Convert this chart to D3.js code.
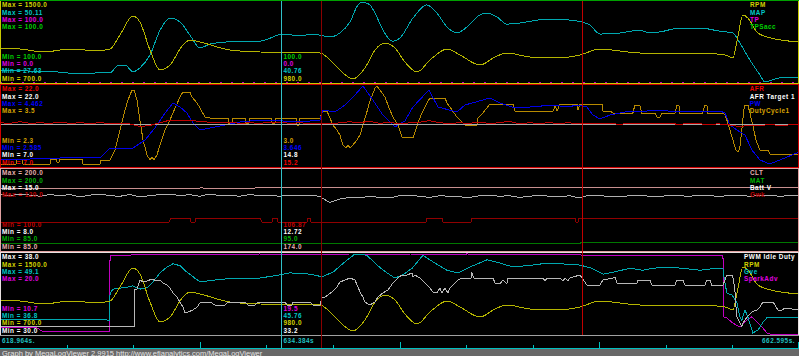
<!DOCTYPE html>
<html lang="en">
<head>
<meta charset="utf-8">
<title>MegaLogViewer graph</title>
<script src="https://d3js.org/d3.v7.min.js"></script>
<style>
body { margin:0; background:#000; }
svg { display:block; }
text { font-family:"Liberation Sans", Arial, sans-serif; font-size:6.4px; font-weight:bold; letter-spacing:0.5px; }
text.foot { font-size:7.5px; font-weight:normal; letter-spacing:0; }
.trace { fill:none; stroke-width:1; shape-rendering:crispEdges; }
</style>
</head>
<body>
<div id="container"></div>
<script>
var w = 799, h = 356;

// time window shown (s)
var t0 = 618.964, t1 = 662.595;
var cursorTime = 634.384;
var markerTimes = [636.49, 650.75];
var footer = "Graph by MegaLogViewer 2.9915 http://www.efianalytics.com/MegaLogViewer";

// series: [seconds after t0, value]
var rpm = [[0,1040],[1.09,1030],[2.46,1000],[3.28,1020],[4.10,1030],[5.19,1010],[6.01,1030],[6.55,1170],[7.26,1360],[7.64,1300],[8.19,1020],[8.74,820],[9.28,870],[9.99,1070],[10.37,1120],[10.92,1100],[12.56,1020],[14.20,1000],[17.47,990],[18.29,870],[19.27,730],[19.93,840],[20.48,1020],[21.02,1090],[21.57,1040],[22.11,900],[22.77,800],[23.48,920],[24.41,1030],[25.12,970],[26.21,870],[27.03,950],[27.68,990],[28.94,950],[30.31,940],[31.67,970],[32.76,1030],[33.85,1010],[34.94,990],[38.22,990],[39.59,970],[40.02,940],[40.24,1100],[40.57,1370],[40.84,1340],[41.33,1200],[41.88,1150],[43.63,1100]];
var map = [[0,31.0],[1.64,30.7],[3.28,30.4],[4.37,29.9],[5.46,30.2],[6.01,30.2],[6.39,32.1],[6.83,32.4],[7.26,30.5],[7.64,31.6],[8.19,35.2],[8.74,42.2],[9.28,45.6],[9.83,44.5],[10.37,40.8],[10.92,37.2],[11.47,38.3],[12.83,39.0],[14.20,39.1],[15.45,41.1],[16.38,40.6],[17.04,41.1],[18.02,40.3],[18.56,41.4],[19.11,44.5],[19.55,49.3],[19.77,50.1],[19.99,49.8],[20.20,49.3],[20.58,45.9],[20.91,42.2],[21.46,39.1],[21.84,40.0],[22.55,45.6],[23.31,49.3],[23.86,47.0],[24.41,43.1],[24.95,41.4],[25.50,43.1],[26.21,46.5],[26.59,47.0],[27.14,45.9],[27.68,43.9],[28.39,44.2],[29.49,45.1],[30.20,45.3],[30.96,45.1],[31.78,44.5],[32.22,43.6],[32.76,41.1],[33.85,41.4],[34.94,42.2],[35.49,41.4],[36.04,41.7],[37.13,42.8],[38.22,42.8],[39.31,41.9],[40.02,41.4],[40.40,38.6],[40.95,33.8],[41.50,29.6],[41.77,27.63],[42.32,28.5],[42.86,29.0],[43.63,29.0]];
var tp = [[0,0],[43.63,0]];
var tpsAcc = [[0,100],[43.63,100]];

// AFR and Batt V are sampled every gridStep seconds
var gridStep = 43.631 / 80;
var afrVals = [15.1,15.0,15.3,15.0,15.1,15.0,15.2,15.0,15.1,15.0,15.1,15.0,15.0,14.9,14.4,14.6,15.1,15.6,15.5,15.5,15.4,15.2,15.1,15.2,15.0,15.1,15.0,15.2,15.2,15.0,15.1,15.0,15.0,14.9,15.1,15.3,15.1,15.4,15.0,15.2,14.9,15.1,15.2,15.5,15.1,15.0,15.1,15.0,15.2,15.0,15.1,15.4,14.9,15.1,15.0,15.1,15.0,15.1,14.9,15.0,14.9,15.0,14.8,15.0,14.9,15.0,14.9,15.0,14.8,15.0,14.9,14.8,14.9,14.7,14.4,14.6,14.5,14.8,14.6,14.7,14.8];
var battVals = [12.85,12.75,12.9,12.8,12.7,12.85,12.75,12.85,12.65,12.8,12.9,12.75,12.7,12.85,12.65,12.75,12.85,12.9,12.75,12.85,12.7,12.9,12.75,12.8,12.7,12.85,12.75,12.8,12.7,12.8,12.75,12.8,12.7,12.15,12.45,12.6,12.55,12.7,12.6,12.55,12.75,12.8,12.7,12.6,12.75,12.7,12.65,12.6,12.75,12.8,12.7,12.75,12.6,12.7,12.8,12.7,12.65,12.75,12.55,12.8,12.75,12.7,12.65,12.75,12.8,12.7,12.65,12.8,12.75,12.7,12.8,12.75,12.7,12.75,12.8,12.7,12.75,12.8,12.7,12.75,12.8];
var afrTarget = [[0,14.8],[43.63,14.8]];
var pw = [[0,2.726],[1.64,2.749],[3.28,2.773],[5.46,2.773],[6.01,3.007],[7.26,3.007],[7.92,3.195],[8.46,3.48],[9.01,3.828],[9.45,4.063],[9.83,3.969],[10.21,3.828],[10.54,3.594],[10.92,3.43],[11.74,3.50],[13.10,3.617],[14.20,3.664],[15.45,3.641],[16.38,3.617],[17.47,3.664],[17.64,3.899],[18.29,3.852],[18.84,4.016],[19.38,4.251],[19.82,4.462],[20.36,4.133],[20.91,3.781],[21.57,3.50],[22.11,3.641],[22.55,3.969],[23.42,4.368],[23.92,3.969],[24.95,3.852],[25.39,4.016],[26.75,4.18],[27.30,4.063],[28.12,3.946],[28.94,3.969],[30.20,4.016],[30.96,3.969],[31.56,4.016],[32.05,3.969],[32.38,3.781],[32.76,3.688],[33.31,3.781],[34.13,3.852],[34.94,3.852],[35.76,3.899],[37.13,3.852],[38.22,3.852],[39.31,3.875],[39.59,3.828],[39.86,3.547],[40.24,3.43],[40.68,3.312],[41.06,2.96],[41.50,2.726],[42.04,2.632],[42.86,2.773],[43.63,2.913]];
var duty = [[0,2.33],[0.87,2.33],[0.93,2.40],[1.20,2.40],[1.26,2.33],[2.73,2.33],[2.78,2.405],[3.06,2.405],[3.11,2.36],[3.22,2.36],[3.28,2.405],[4.48,2.405],[4.53,2.33],[5.46,2.33],[5.52,2.39],[6.01,2.39],[6.28,2.54],[6.55,2.84],[6.83,3.14],[6.99,3.29],[7.21,3.44],[7.32,3.44],[7.48,3.29],[7.64,2.99],[7.81,2.69],[8.03,2.465],[8.19,2.39],[8.30,2.435],[8.41,2.39],[8.57,2.465],[8.74,2.615],[9.01,2.84],[9.28,2.99],[9.56,3.17],[9.83,3.335],[9.99,3.41],[10.37,3.41],[10.48,3.335],[10.76,3.245],[10.92,3.17],[11.19,3.035],[11.47,3.02],[12.45,3.02],[12.50,2.945],[12.67,2.945],[12.72,3.02],[13.38,3.02],[13.43,2.945],[13.60,2.945],[13.65,3.02],[14.80,3.02],[14.85,2.945],[15.02,2.945],[15.07,3.02],[16.16,3.02],[16.22,2.915],[16.33,2.915],[16.38,3.02],[17.47,3.02],[17.64,3.125],[17.85,3.125],[18.02,3.02],[18.18,2.915],[18.40,2.84],[18.56,2.765],[18.73,2.615],[18.89,2.57],[19.00,2.615],[19.11,2.57],[19.27,2.615],[19.49,2.69],[19.66,2.765],[19.82,2.915],[19.99,3.065],[20.15,3.23],[20.31,3.35],[20.48,3.47],[20.58,3.5],[20.75,3.44],[21.02,3.335],[21.29,3.14],[21.46,3.035],[21.73,2.915],[21.95,2.735],[22.55,2.72],[22.66,2.81],[22.82,2.945],[23.04,3.095],[23.31,3.245],[23.48,3.32],[24.30,3.32],[24.41,3.245],[24.68,3.14],[24.95,3.035],[25.23,2.96],[25.39,2.915],[26.05,2.915],[26.10,3.02],[26.37,3.095],[26.75,3.23],[28.01,3.23],[28.12,3.125],[30.20,3.125],[30.31,3.20],[30.42,3.125],[30.58,3.23],[31.51,3.23],[31.56,3.14],[31.67,3.23],[32.87,3.23],[32.93,3.125],[33.31,3.125],[33.47,3.095],[34.56,3.095],[34.67,3.215],[34.94,3.215],[35.05,3.095],[35.76,3.095],[35.87,3.035],[36.04,3.035],[36.15,3.095],[36.86,3.095],[36.96,3.215],[37.07,3.215],[37.13,3.095],[38.38,3.095],[38.49,3.215],[38.60,3.215],[38.65,3.095],[39.48,3.095],[39.59,3.065],[39.69,2.99],[39.86,2.84],[40.02,2.69],[40.19,2.54],[40.30,2.51],[40.40,2.57],[40.51,2.84],[40.62,3.14],[40.68,3.215],[40.84,3.215],[40.95,3.095],[41.11,2.915],[41.28,2.69],[41.50,2.54],[41.93,2.54],[42.04,2.48],[43.63,2.48]];
var clt = [[0,174],[10.9,174],[11.0,174.8],[11.1,174],[21.8,174.4],[32.7,175],[43.63,175.5]];
var mat = [[0,95],[31.7,95],[31.8,96],[43.63,96]];
var gwk = [[0,107],[9.23,107],[9.34,108],[10.37,108],[10.43,107],[10.65,107],[10.70,108],[14.20,108],[14.31,107],[14.85,107],[14.91,108],[15.13,108],[15.18,107],[16.76,107],[16.82,108],[16.93,108],[16.98,107],[23.26,107],[23.31,108],[24.13,108],[24.19,107],[25.72,107],[25.77,108],[31.40,108],[31.45,107],[31.56,107],[31.62,108],[43.63,108]];
var pwmIdle = [[0,30.8],[7.32,30.8],[7.37,34.5],[7.48,34.5],[7.64,35.4],[7.81,35.2],[8.03,35.3],[8.30,35.5],[8.57,35.3],[8.74,35.4],[8.90,35.1],[9.12,34.9],[9.28,34.6],[9.45,34.1],[9.66,33.7],[9.83,33.2],[9.99,32.7],[10.10,32.1],[10.26,32.2],[10.54,32.4],[10.76,32.7],[10.92,33.1],[11.47,33.2],[11.74,32.9],[12.29,32.9],[12.45,33.2],[13.38,33.2],[13.54,32.9],[13.92,32.9],[14.09,33.2],[15.56,33.2],[15.67,32.9],[15.94,32.9],[16.00,33.2],[16.93,33.2],[17.09,32.9],[17.47,32.9],[17.58,33.6],[17.75,33.7],[18.13,34.2],[18.40,34.7],[18.56,35.2],[18.84,35.4],[19.11,35.6],[19.38,35.4],[19.55,34.7],[19.66,34.2],[19.82,33.7],[19.93,33.2],[20.20,32.9],[20.48,33.2],[20.64,33.7],[20.91,34.1],[21.18,34.4],[21.46,35.1],[21.73,35.6],[21.95,35.9],[22.22,35.9],[22.50,36.1],[22.55,35.7],[22.66,35.9],[22.93,35.6],[23.21,35.1],[23.48,34.6],[23.64,34.2],[23.86,34.1],[24.02,34.6],[24.13,34.1],[24.30,34.6],[24.46,34.1],[24.57,34.6],[24.84,35.1],[25.01,35.4],[25.23,35.6],[25.72,35.6],[25.77,36.1],[25.88,35.6],[26.92,35.6],[27.03,35.1],[27.30,35.0],[27.46,35.4],[27.68,35.0],[27.74,35.6],[29.65,35.6],[29.76,35.3],[29.87,35.6],[30.58,35.6],[30.74,35.3],[30.85,35.6],[31.01,35.3],[31.12,35.6],[31.67,35.9],[31.78,35.6],[32.05,34.9],[32.76,34.9],[32.93,35.4],[33.47,35.6],[33.58,35.7],[33.69,35.1],[34.78,35.1],[34.83,35.4],[35.49,35.4],[35.60,34.9],[36.86,34.9],[36.96,35.4],[37.29,35.4],[37.40,34.9],[38.49,34.9],[38.60,35.4],[38.77,35.4],[38.86,34.9],[39.48,34.9],[39.59,35.4],[39.69,35.9],[39.97,35.9],[40.02,35.7],[40.13,34.4],[40.19,32.7],[40.24,31.7],[40.40,31.1],[40.51,30.7],[40.57,31.1],[40.79,31.7],[41.06,32.2],[41.33,32.4],[41.50,32.7],[41.66,33.2],[42.21,33.2],[42.32,32.9],[42.48,32.4],[42.70,32.4],[42.86,32.6],[43.63,32.4]];
var gve = [[0,38.95],[2.73,39.0],[5.98,38.95],[6.01,43.1],[6.17,43.7],[6.93,44.0],[7.26,44.2],[7.64,43.7],[8.03,43.9],[8.35,44.8],[8.74,46.2],[9.12,47.1],[9.45,47.6],[9.83,47.3],[10.21,46.3],[10.54,45.6],[10.92,44.8],[12.01,45.2],[13.10,45.4],[14.20,45.4],[15.29,45.9],[15.84,46.2],[16.93,46.0],[17.58,45.6],[18.18,46.3],[18.84,47.9],[19.38,49.1],[19.66,49.1],[20.04,48.9],[20.58,47.4],[21.13,46.2],[21.57,45.4],[22.00,45.9],[22.50,46.9],[23.10,48.9],[23.64,47.9],[24.41,46.6],[25.01,46.2],[25.66,47.1],[26.59,48.2],[27.30,47.7],[28.01,47.1],[29.10,47.4],[29.87,47.7],[30.58,47.6],[31.67,47.4],[32.32,46.9],[32.93,46.0],[33.47,46.3],[34.40,46.9],[35.11,46.6],[35.65,46.9],[36.42,47.1],[37.29,46.9],[38.22,46.6],[38.77,46.8],[39.48,46.9],[39.53,45.6],[39.69,43.1],[39.97,42.8],[40.24,41.6],[40.40,39.4],[40.51,38.9],[40.68,40.5],[40.84,39.4],[41.06,37.4],[41.11,36.95],[41.39,37.4],[41.66,38.6],[41.88,39.3],[43.63,39.3]];
var sparkAdv = [[0,11.4],[2.02,11.4],[2.29,11.05],[3.28,10.95],[4.37,11.05],[5.46,10.95],[5.98,11.0],[6.01,19.8],[7.37,19.9],[9.28,19.9],[10.92,19.9],[14.20,20.0],[15.29,19.9],[16.38,19.9],[19.11,20.0],[19.93,20.0],[20.48,19.9],[21.84,20.0],[22.39,20.0],[24.02,19.9],[25.50,20.0],[27.30,19.9],[31.67,19.9],[32.05,19.77],[39.48,19.77],[39.53,12.7],[39.69,12.56],[40.02,11.98],[40.40,11.51],[40.79,12.33],[41.06,12.7],[41.33,12.1],[41.66,11.4],[41.88,10.82],[42.04,10.7],[43.63,10.7]];

// values shown at the cursor, per panel in min-label order
var cursorVals = [[100.0, 0.0, 40.76, 980.0], [3.0, 3.646, 14.8, 15.2], [106.87, 12.72, 95.0, 174.0], [19.5, 45.76, 980.0, 33.2]];

var afr = afrVals.map(function(v, i) { return [i * gridStep, v]; });
var batt = battVals.map(function(v, i) { return [i * gridStep, v]; });

var panels = [
  {top:0, bottom:83, border:"#c8c800", series:[
    {name:"RPM", data:rpm, min:700, max:1500, line:"#b4b400", text:"#d4d400", curve:d3.curveMonotoneX},
    {name:"MAP", data:map, min:27.63, max:50.11, line:"#00a8b0", text:"#00c8c8", curve:d3.curveMonotoneX},
    {name:"TP", data:tp, min:0, max:100, line:"#c000c0", text:"#e000e0", dash:"2,9"},
    {name:"TPSacc", data:tpsAcc, min:100, max:100, line:"#00c000", text:"#00d000", hidden:true}]},
  {top:84, bottom:167, border:"#d00000", series:[
    {name:"AFR", data:afr, min:7, max:22, line:"#c00000", text:"#f00000"},
    {name:"AFR Target 1", data:afrTarget, min:7, max:22, line:"#a8a8a8", text:"#ffffff"},
    {name:"PW", data:pw, min:2.585, max:4.462, line:"#0000e8", text:"#0000ff"},
    {name:"DutyCycle1", data:duty, min:2.3, max:3.5, line:"#b88a00", text:"#d8a400"}]},
  {top:168, bottom:251, border:"#e0a0a0", series:[
    {name:"CLT", data:clt, min:85, max:200, line:"#c89090", text:"#e8b0b0"},
    {name:"MAT", data:mat, min:85, max:200, line:"#007800", text:"#00b000"},
    {name:"Batt V", data:batt, min:8, max:15, line:"#b0b0b0", text:"#ffffff"},
    {name:"Gwk", data:gwk, min:100, max:120, line:"#900000", text:"#c00000"}]},
  {top:252, bottom:335, border:"#e8e0e0", series:[
    {name:"PWM Idle Duty", data:pwmIdle, min:30, max:38, line:"#b8b8b8", text:"#ffffff"},
    {name:"RPM", data:rpm, min:700, max:1500, line:"#b4b400", text:"#d4d400", curve:d3.curveMonotoneX},
    {name:"Gve", data:gve, min:36.8, max:49.1, line:"#00a8b0", text:"#00c8c8"},
    {name:"SparkAdv", data:sparkAdv, min:10.7, max:20, line:"#c000c0", text:"#e000e0"}]}
];

var rowGap = 7.2;

function fmt(v) { return Number.isInteger(v) ? v.toFixed(1) : String(v); }

var svg = d3.select("#container").append("svg")
  .attr("width", w).attr("height", h)
  .style("background-color", "#000");

var x = d3.scaleLinear().domain([t0, t1]).range([0, w]);

panels.forEach(function(p, pi) {
  var yTop = p.top + 2, yBot = p.bottom - 1;
  var clipId = "clip" + pi;
  svg.append("clipPath").attr("id", clipId).append("rect")
    .attr("x", 1).attr("y", p.top + 1).attr("width", w - 2).attr("height", p.bottom - p.top - 1);
  var g = svg.append("g").attr("clip-path", "url(#" + clipId + ")");

  // draw last series first so the first listed ends on top
  p.series.slice().reverse().forEach(function(s) {
    if (s.hidden) return;
    var y = d3.scaleLinear().domain([s.min, s.max]).range([yBot, yTop]);
    var line = d3.line()
      .x(function(d) { return x(t0 + d[0]); })
      .y(function(d) { return y(d[1]); })
      .curve(s.curve || d3.curveLinear);
    g.append("path").attr("class", "trace")
      .attr("d", line(s.data))
      .attr("stroke", s.line)
      .attr("stroke-dasharray", s.dash || null);
  });

  svg.append("rect")
    .attr("x", 0.5).attr("y", p.top + 0.5)
    .attr("width", w - 1).attr("height", p.bottom - p.top)
    .attr("fill", "none").attr("stroke", p.border).attr("shape-rendering", "crispEdges");
});

// green frame on top
svg.append("line").attr("x1", 0).attr("x2", w).attr("y1", 0.5).attr("y2", 0.5)
  .attr("stroke", "#00a000").attr("shape-rendering", "crispEdges");
// gray base under last panel
svg.append("line").attr("x1", 0).attr("x2", w).attr("y1", 335.5).attr("y2", 335.5)
  .attr("stroke", "#a0a0a0").attr("shape-rendering", "crispEdges");

// cursor and marker lines
markerTimes.forEach(function(t, i) {
  svg.append("line")
    .attr("x1", Math.round(x(t)) + 0.5).attr("x2", Math.round(x(t)) + 0.5)
    .attr("y1", 1).attr("y2", i === 0 ? 348 : 335)
    .attr("stroke", i === 0 ? "#8a0000" : "#c00000");
});
var cx = Math.round(x(cursorTime)) - 0.5;
svg.append("line").attr("x1", cx).attr("x2", cx).attr("y1", 1).attr("y2", 348)
  .attr("stroke", "#30c0c8");

// labels
panels.forEach(function(p, pi) {
  var n = p.series.length;
  p.series.forEach(function(s, i) {
    svg.append("text").attr("x", 2).attr("y", p.top + 7.3 + rowGap * i)
      .attr("fill", s.text).text("Max = " + fmt(s.max));
  });
  var rev = p.series.slice().reverse();
  rev.forEach(function(s, i) {
    var by = p.bottom - 2.5 - rowGap * (n - 1 - i);
    svg.append("text").attr("x", 2).attr("y", by)
      .attr("fill", s.text).text("Min = " + fmt(s.min));
    svg.append("text").attr("x", cx + 2).attr("y", by)
      .attr("fill", s.text).text(fmt(cursorVals[pi][i]));
  });
  var leg = svg.append("g");
  p.series.forEach(function(s, i) {
    leg.append("text").attr("x", 0).attr("y", p.top + 7.3 + rowGap * i)
      .attr("fill", s.text).text(s.name);
  });
  var lw = leg.node().getBBox().width;
  leg.attr("transform", "translate(" + Math.min(750, 795 - lw) + ",0)");
});

// time axis
svg.append("line").attr("x1", 0).attr("x2", w).attr("y1", 348.5).attr("y2", 348.5)
  .attr("stroke", "#00c0c0").attr("shape-rendering", "crispEdges");
var ticks = d3.range(1, 13).map(function(i) { return t0 + i * (t1 - t0) / 12; });
svg.selectAll("line.tick").data(ticks).enter().append("line").attr("class", "tick")
  .attr("x1", function(d) { return Math.min(w - 1, Math.round(x(d))) + 0.5; })
  .attr("x2", function(d) { return Math.min(w - 1, Math.round(x(d))) + 0.5; })
  .attr("y1", function(d, i) { return (i + 1) % 3 === 0 ? 341.5 : 344.5; })
  .attr("y2", 348)
  .attr("stroke", "#00c0c0").attr("shape-rendering", "crispEdges");

svg.append("text").attr("x", 2).attr("y", 343).attr("fill", "#20c0c0").text(t0.toFixed(3) + "s.");
svg.append("text").attr("x", cx + 2).attr("y", 343).attr("fill", "#20c0c0").text(cursorTime.toFixed(3) + "s");
svg.append("text").attr("x", 795).attr("y", 343).attr("text-anchor", "end").attr("fill", "#20c0c0").text(t1.toFixed(3) + "s.");

// footer
svg.append("rect").attr("x", 0).attr("y", 349).attr("width", w).attr("height", h - 349).attr("fill", "#686868");
svg.append("text").attr("class", "foot").attr("x", 2).attr("y", 355.5).attr("fill", "#e4e4e4").text(footer);
</script>
</body>
</html>
